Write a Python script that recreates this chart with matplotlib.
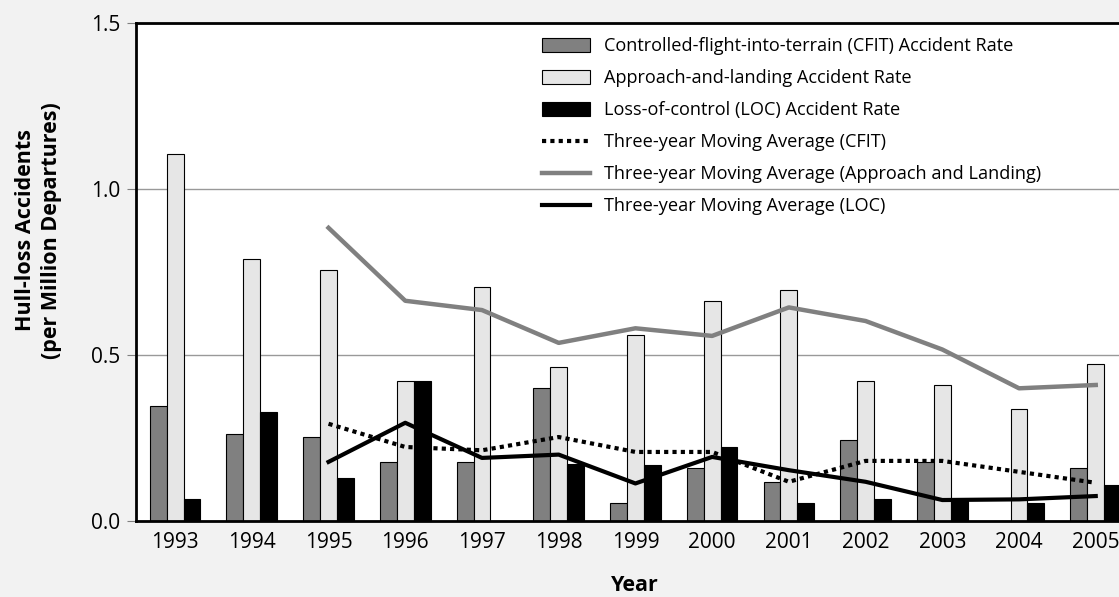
import numpy as np
import matplotlib.pyplot as plt
from matplotlib.patches import Patch
from matplotlib.lines import Line2D

plt.rcParams["font.family"] = ["Open Sans", "DejaVu Sans"]

years = np.arange(1993, 2006)

# Raten pr. million afgange
cfit_rate = [0.346, 0.262, 0.252, 0.178, 0.178, 0.399, 0.052, 0.158, 0.115, 0.242, 0.178, 0.0, 0.158]
approach_rate = [1.107, 0.79, 0.757, 0.42, 0.705, 0.462, 0.56, 0.663, 0.696, 0.42, 0.41, 0.336, 0.472]
loc_rate = [0.064, 0.327, 0.128, 0.42, 0.0, 0.17, 0.169, 0.221, 0.053, 0.064, 0.062, 0.053, 0.107]

# Tre-års glidende gennemsnit (starter i 1995)
cfit_avg = [np.nan, np.nan, 0.292, 0.222, 0.212, 0.252, 0.207, 0.207, 0.117, 0.18, 0.18, 0.147, 0.114]
approach_avg = [np.nan, np.nan, 0.883, 0.663, 0.635, 0.536, 0.58, 0.557, 0.643, 0.602, 0.516, 0.399, 0.409]
loc_avg = [np.nan, np.nan, 0.177, 0.295, 0.189, 0.199, 0.112, 0.192, 0.152, 0.117, 0.062, 0.064, 0.074]

labels = [
    "Controlled-flight-into-terrain (CFIT) Accident Rate",
    "Approach-and-landing Accident Rate",
    "Loss-of-control (LOC) Accident Rate",
    "Three-year Moving Average (CFIT)",
    "Three-year Moving Average (Approach and Landing)",
    "Three-year Moving Average (LOC)",
]

fig = plt.figure(figsize=(11.19, 5.97), dpi=100, facecolor="#f2f2f2")
ax = fig.add_axes([0.1215, 0.128, 0.892, 0.833])
ax.set_facecolor("white")

w = 0.22
ax.bar(years - w, cfit_rate, w, color="#808080", edgecolor="black", linewidth=0.8, zorder=2)
ax.bar(years, approach_rate, w, color="#e6e6e6", edgecolor="black", linewidth=0.8, zorder=2)
ax.bar(years + w, loc_rate, w, color="black", edgecolor="black", linewidth=0.8, zorder=2)

ax.plot(years, approach_avg, color="#808080", linewidth=3.2, zorder=3)
ax.plot(years, cfit_avg, color="black", linewidth=3, linestyle=(0, (1, 1)),
        dash_capstyle="butt", zorder=4)
ax.plot(years, loc_avg, color="black", linewidth=3, zorder=4)

ax.set_xlim(1992.49, 2005.5)
ax.set_ylim(0, 1.5)
ax.set_yticks([0, 0.5, 1.0, 1.5])
ax.set_yticklabels(["0.0", "0.5", "1.0", "1.5"])
ax.set_xticks(years)
ax.tick_params(axis="y", length=6.5, color="#808080", labelsize=15, pad=5)
ax.tick_params(axis="x", length=0, labelsize=15, pad=8)
ax.grid(axis="y", color="#999999", linewidth=1, zorder=1)
ax.set_axisbelow(True)
for side in ["left", "bottom", "top"]:
    ax.spines[side].set_linewidth(2)
    ax.spines[side].set_color("black")
ax.spines["right"].set_visible(False)

ax.set_xlabel("Year", fontsize=15.5, fontweight="bold", labelpad=16)
ax.set_ylabel("Hull-loss Accidents\n(per Million Departures)", fontsize=15.5,
              fontweight="bold", linespacing=1.3)
ax.yaxis.set_label_coords(-0.074, 0.584)

handles = [
    Patch(facecolor="#808080", edgecolor="black", linewidth=0.8),
    Patch(facecolor="#e6e6e6", edgecolor="black", linewidth=0.8),
    Patch(facecolor="black", edgecolor="black", linewidth=0.8),
    Line2D([], [], color="black", linewidth=3, linestyle=(0, (1, 1)), dash_capstyle="butt"),
    Line2D([], [], color="#808080", linewidth=3.2),
    Line2D([], [], color="black", linewidth=3),
]
fig.legend(handles, labels, loc="upper left", bbox_to_anchor=(0.470, 0.965),
           frameon=False, fontsize=13.1, handlelength=2.6, handleheight=0.75,
           handletextpad=0.78, labelspacing=0.77)

fig.savefig("out.png", dpi=100, facecolor=fig.get_facecolor())
